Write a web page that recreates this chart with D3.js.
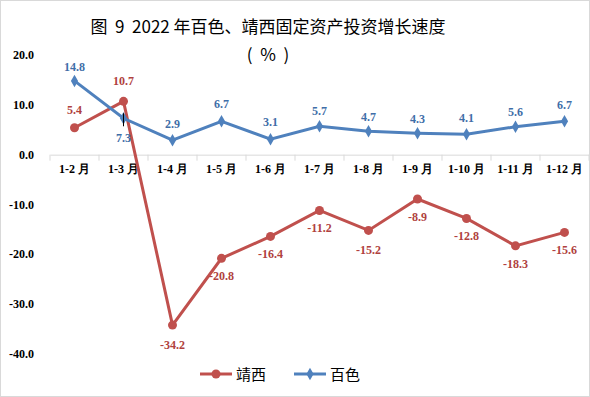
<!DOCTYPE html>
<html>
<head>
<meta charset="utf-8">
<script src="https://cdn.jsdelivr.net/npm/d3@7"></script>
<style>
body { margin: 0; background: #fff; }
svg { display: block; }
text { white-space: pre; }
</style>
</head>
<body>
<div id="chart"></div>
<script>
// Data
var months = ["1-2 月", "1-3 月", "1-4 月", "1-5 月", "1-6 月", "1-7 月", "1-8 月", "1-9 月", "1-10 月", "1-11 月", "1-12 月"];
var jingxi = [5.4, 10.7, -34.2, -20.8, -16.4, -11.2, -15.2, -8.9, -12.8, -18.3, -15.6];
var baise = [14.8, 7.3, 2.9, 6.7, 3.1, 5.7, 4.7, 4.3, 4.1, 5.6, 6.7];
var yTicks = [20, 10, 0, -10, -20, -30, -40];

var width = 590, height = 397;
var red = "#C0504D", blue = "#4F81BD";
var serif = "'Liberation Serif', 'Times New Roman', serif";
var fmt = function (d) { return d.toFixed(1); };

var svg = d3.select("#chart").append("svg")
    .attr("width", width)
    .attr("height", height);

// border
svg.append("rect")
    .attr("x", 0.5).attr("y", 0.5)
    .attr("width", width - 1).attr("height", height - 1)
    .attr("fill", "none").attr("stroke", "#d9d9d9");

// title
svg.append("text")
    .attr("x", 268).attr("y", 33)
    .attr("text-anchor", "middle")
    .style("font-family", "'Noto Sans CJK SC', sans-serif")
    .style("font-size", "17px")
    .text("图  9  2022 年百色、靖西固定资产投资增长速度");
svg.append("text")
    .attr("x", 268).attr("y", 61)
    .attr("text-anchor", "middle")
    .style("font-family", "'Noto Sans CJK SC', sans-serif")
    .style("font-size", "17px")
    .text("(  %  )");

var x = d3.scaleBand().domain(months).range([50, 589]);
var y = d3.scaleLinear().domain([-40, 20]).range([354, 55]);

// y axis labels
svg.append("g").selectAll("text")
    .data(yTicks)
    .enter().append("text")
    .attr("x", 34)
    .attr("y", function (d) { return y(d) + 4; })
    .attr("text-anchor", "end")
    .style("font-family", serif)
    .style("font-weight", "bold")
    .style("font-size", "12px")
    .text(fmt);

// x axis at zero
var xAxis = svg.append("g")
    .attr("transform", "translate(0," + y(0) + ")")
    .call(d3.axisBottom(x).tickSize(0).tickPadding(10));
xAxis.select(".domain").attr("stroke", "#d9d9d9");
xAxis.selectAll("text")
    .style("font-family", serif)
    .style("font-weight", "bold")
    .style("font-size", "12px")
    .attr("fill", "#000");
xAxis.selectAll(".sep")
    .data(months)
    .enter().append("line")
    .attr("class", "sep")
    .attr("x1", function (d) { return x(d); })
    .attr("x2", function (d) { return x(d); })
    .attr("y1", 0).attr("y2", 6)
    .attr("stroke", "#d9d9d9");
xAxis.append("line")
    .attr("x1", x.range()[1]).attr("x2", x.range()[1])
    .attr("y1", 0).attr("y2", 6)
    .attr("stroke", "#d9d9d9");

var cx = function (d, i) { return x(months[i]) + x.bandwidth() / 2; };
var line = d3.line()
    .x(function (d, i) { return cx(d, i); })
    .y(function (d) { return y(d); });

// 靖西
svg.append("path")
    .datum(jingxi)
    .attr("d", line)
    .attr("fill", "none")
    .attr("stroke", red)
    .attr("stroke-width", 3);
svg.selectAll(".jx")
    .data(jingxi)
    .enter().append("circle")
    .attr("class", "jx")
    .attr("cx", cx)
    .attr("cy", function (d) { return y(d); })
    .attr("r", 4.5)
    .attr("fill", red);

// 百色
svg.append("path")
    .datum(baise)
    .attr("d", line)
    .attr("fill", "none")
    .attr("stroke", blue)
    .attr("stroke-width", 3);
svg.selectAll(".bs")
    .data(baise)
    .enter().append("path")
    .attr("class", "bs")
    .attr("d", d3.symbol().type(d3.symbolDiamond).size(45))
    .attr("transform", function (d, i) { return "translate(" + cx(d, i) + "," + y(d) + ")"; })
    .attr("fill", blue);

// small marker at 1-3
svg.append("line")
    .attr("x1", cx(0, 1)).attr("x2", cx(0, 1))
    .attr("y1", y(baise[1]) - 5).attr("y2", y(baise[1]) + 8)
    .attr("stroke", "#000").attr("stroke-width", 1);

// data labels
var jxOffset = [-18, -20, 20, 18, 18, 18, 20, 18, 18, 18, 18];
svg.selectAll(".jxl")
    .data(jingxi)
    .enter().append("text")
    .attr("class", "jxl")
    .attr("x", cx)
    .attr("y", function (d, i) { return y(d) + jxOffset[i] + 4; })
    .attr("text-anchor", "middle")
    .style("font-family", serif)
    .style("font-weight", "bold")
    .style("font-size", "12px")
    .attr("fill", "#b0413e")
    .text(fmt);

var bsOffset = [-14, 20, -16, -17, -17, -15, -14, -14, -16, -15, -16];
svg.selectAll(".bsl")
    .data(baise)
    .enter().append("text")
    .attr("class", "bsl")
    .attr("x", cx)
    .attr("y", function (d, i) { return y(d) + bsOffset[i] + 4; })
    .attr("text-anchor", "middle")
    .style("font-family", serif)
    .style("font-weight", "bold")
    .style("font-size", "12px")
    .attr("fill", "#3f6ea8")
    .text(fmt);

// legend
var legend = [
    { name: "靖西", color: red, x: 200, shape: "circle" },
    { name: "百色", color: blue, x: 294, shape: "diamond" }
];
var lg = svg.selectAll(".lg")
    .data(legend)
    .enter().append("g")
    .attr("class", "lg")
    .attr("transform", function (d) { return "translate(" + d.x + ",374)"; });
lg.append("line")
    .attr("x1", 0).attr("x2", 32)
    .attr("stroke", function (d) { return d.color; })
    .attr("stroke-width", 3);
lg.append("path")
    .attr("d", function (d) {
        return d.shape === "circle"
            ? d3.symbol().type(d3.symbolCircle).size(64)()
            : d3.symbol().type(d3.symbolDiamond).size(45)();
    })
    .attr("transform", "translate(16,0)")
    .attr("fill", function (d) { return d.color; });
lg.append("text")
    .attr("x", 36).attr("y", 6)
    .style("font-family", "'Noto Sans CJK SC', sans-serif")
    .style("font-size", "15px")
    .text(function (d) { return d.name; });
</script>
</body>
</html>
